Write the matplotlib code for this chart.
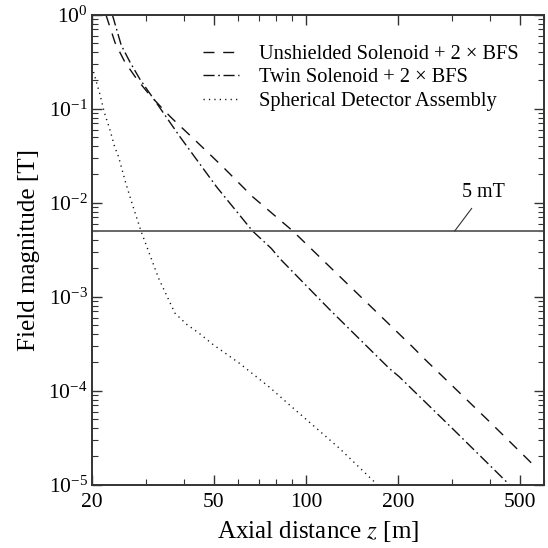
import matplotlib
matplotlib.use("Agg")
import matplotlib.pyplot as plt
from matplotlib.ticker import LogFormatterMathtext, FixedLocator, NullFormatter, LogLocator

plt.rcParams["font.family"] = ["Liberation Serif", "DejaVu Serif"]
plt.rcParams["mathtext.fontset"] = "stix"

# Unshielded Solenoid + 2 x BFS (dashed)
unsh_z = [22.2, 23.8, 25.6, 28.0, 30.6, 34.3, 36.5, 42.8, 53.5, 66.9, 90.6, 130, 222.6, 246, 400, 567]
unsh_b = [1.0, 0.50, 0.314, 0.207, 0.145, 0.097, 0.079, 0.0484, 0.0241, 0.0116, 5.0e-3, 1.6e-3,
          2.94e-4, 2.12e-4, 4.6e-5, 1.5e-5]

# Twin Solenoid + 2 x BFS (dash-dot)
twin_z = [23.3, 24.9, 26.6, 28.65, 30.6, 32.2, 38.8, 51.0, 66.9, 77.0, 82.0, 120, 187, 201.6, 300, 462, 575]
twin_b = [1.0, 0.476, 0.314, 0.207, 0.152, 0.12, 0.05, 0.0148, 5.0e-3, 3.27e-3, 2.56e-3, 7.2e-4,
          1.73e-4, 1.41e-4, 4.0e-5, 1.0e-5, 5.0e-6]

# Spherical Detector Assembly (dotted)
sph_z = [20.0, 21.25, 21.9, 22.9, 23.7, 24.4, 25.7, 27.0, 28.9, 33.0, 37.3, 40.7, 44.7, 49.7,
         60.6, 76.0, 88.4, 128.6, 171, 180]
sph_b = [0.28, 0.14, 0.093, 0.059, 0.0395, 0.031, 0.0167, 9.9e-3, 5.0e-3, 1.57e-3, 6.7e-4, 5.1e-4,
         4.1e-4, 3.1e-4, 1.96e-4, 1.09e-4, 7.05e-5, 2.44e-5, 1.0e-5, 8.5e-6]

limit_b = 5e-3
xticks = [20, 50, 100, 200, 500]

fig = plt.figure(figsize=(5.48, 5.48), dpi=100)
ax = fig.add_axes([0.168, 0.1155, 0.825, 0.8575])

ax.plot(unsh_z, unsh_b, color="#111111", lw=1.0, dashes=(7.9, 6.3),
        label="Unshielded Solenoid + 2 \u00d7 BFS")
ax.plot(twin_z, twin_b, color="#111111", lw=1.0, dashes=(8, 2.6, 1.2, 2.6),
        label="Twin Solenoid + 2 \u00d7 BFS")
ax.plot(sph_z, sph_b, color="#111111", lw=1.0, dashes=(0.9, 3.0),
        label="Spherical Detector Assembly")
ax.axhline(limit_b, color="#666666", lw=1.4)

ax.annotate("5 mT", xy=(306, limit_b), xytext=(380, 0.0128),
            ha="center", va="center", fontsize=14.5,
            arrowprops=dict(arrowstyle="-", color="#333333", lw=0.8,
                            shrinkA=3, shrinkB=0))

ax.set_xscale("log")
ax.set_yscale("log")
ax.set_xlim(20, 600)
ax.set_ylim(1e-5, 1)

ax.xaxis.set_major_locator(FixedLocator(xticks))
ax.set_xticklabels([str(t) for t in xticks])
ax.xaxis.set_minor_locator(LogLocator(base=10, subs=range(2, 10)))
ax.xaxis.set_minor_formatter(NullFormatter())
ax.yaxis.set_major_formatter(LogFormatterMathtext())
ax.yaxis.set_minor_locator(LogLocator(base=10, subs=range(2, 10)))
ax.yaxis.set_minor_formatter(NullFormatter())

ax.tick_params(which="both", direction="in", top=True, right=True,
               labelsize=15.5, color="#333333")
ax.tick_params(which="major", length=7, width=1.0)
ax.tick_params(which="minor", length=4, width=0.8)
ax.tick_params(axis="x", which="major", pad=6)
ax.tick_params(axis="y", which="major", pad=3)
for s in ax.spines.values():
    s.set_linewidth(1.4)
    s.set_color("#333333")

ax.set_xlabel("Axial distance $z$ [m]", fontsize=18, labelpad=5)
ax.set_ylabel("Field magnitude [T]", fontsize=18, labelpad=6)

ax.legend(loc="upper left", bbox_to_anchor=(0.245, 0.937), frameon=False,
          fontsize=14.7, handlelength=1.75, handletextpad=1.0,
          labelspacing=0.22, borderaxespad=0, borderpad=0)

fig.savefig("out.png", dpi=100)
